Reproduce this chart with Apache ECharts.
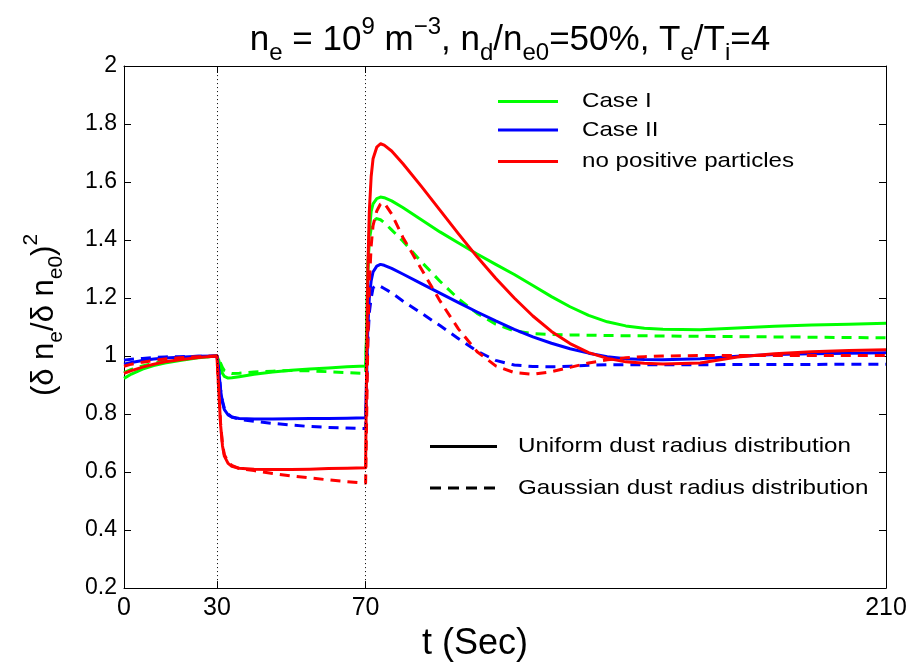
<!DOCTYPE html>
<html>
<head>
<meta charset="utf-8">
<script src="https://cdn.jsdelivr.net/npm/echarts@6/dist/echarts.min.js"></script>
<style>
  html, body { margin: 0; padding: 0; background: #fff; }
  #chart { width: 912px; height: 667px; }
</style>
</head>
<body>
<div id="chart"></div>
<script>
// Sample times (s); the plot starts at t = 5, labelled as the origin of the run
const times = [5, 7, 10, 13, 16, 20, 25, 30,
  30.5, 31, 31.5, 32, 33, 34, 36, 40, 45, 50, 55, 60, 65, 70,
  70.3, 70.6, 71, 71.5, 72, 73, 74, 75,
  77, 80, 85, 90, 95, 100, 105, 110,
  115, 120, 125, 130, 135, 140, 145, 150,
  160, 170, 180, 190, 200, 210];

// (δn_e/δn_e0)^2 for each case, uniform (solid) and Gaussian (dashed) dust radius distributions
const caseIUniform = [0.923, 0.938, 0.955, 0.967, 0.976, 0.985, 0.994, 1.0,
  0.985, 0.96, 0.94, 0.93, 0.924, 0.925, 0.929, 0.937, 0.945, 0.951, 0.955, 0.959, 0.963, 0.966,
  1.1, 1.3, 1.43, 1.5, 1.525, 1.543, 1.548, 1.546,
  1.535, 1.512, 1.47, 1.428, 1.39, 1.352, 1.316, 1.281,
  1.243, 1.205, 1.17, 1.14, 1.118, 1.104, 1.096, 1.092,
  1.091, 1.097, 1.103, 1.107, 1.110, 1.113];
const caseIGaussian = [0.943, 0.954, 0.966, 0.975, 0.982, 0.989, 0.996, 1.0,
  0.99, 0.975, 0.96, 0.95, 0.943, 0.94, 0.941, 0.945, 0.948, 0.95, 0.949, 0.946, 0.943, 0.94,
  1.1, 1.3, 1.4, 1.44, 1.465, 1.474, 1.47, 1.46,
  1.435, 1.397, 1.325, 1.258, 1.197, 1.147, 1.11, 1.087,
  1.077, 1.074, 1.073, 1.072, 1.071, 1.07, 1.07, 1.069,
  1.068, 1.067, 1.066, 1.065, 1.064, 1.063];
const caseIIUniform = [0.972, 0.978, 0.985, 0.99, 0.993, 0.996, 0.999, 1.0,
  0.95, 0.88, 0.84, 0.815, 0.797, 0.79, 0.785, 0.783, 0.783, 0.784, 0.785, 0.785, 0.786, 0.787,
  0.95, 1.1, 1.2, 1.26, 1.29, 1.31, 1.316, 1.313,
  1.302, 1.283, 1.25, 1.217, 1.184, 1.152, 1.121, 1.092,
  1.066, 1.044, 1.025, 1.01, 0.998, 0.991, 0.988, 0.987,
  0.991, 0.999, 1.005, 1.008, 1.01, 1.011];
const caseIIGaussian = [0.986, 0.989, 0.992, 0.995, 0.997, 0.998, 0.999, 1.0,
  0.95, 0.885, 0.845, 0.82, 0.8, 0.79, 0.782, 0.775, 0.768, 0.762, 0.757, 0.754, 0.752, 0.75,
  0.9, 1.05, 1.15, 1.2, 1.235, 1.244, 1.24, 1.233,
  1.218, 1.19, 1.148, 1.105, 1.06, 1.017, 0.985, 0.969,
  0.964, 0.963, 0.965, 0.968, 0.97, 0.97, 0.97, 0.97,
  0.97, 0.971, 0.971, 0.971, 0.972, 0.972];
const noPositiveUniform = [0.94, 0.95, 0.962, 0.972, 0.98, 0.987, 0.995, 1.0,
  0.88, 0.76, 0.69, 0.655, 0.63, 0.62, 0.613, 0.61, 0.609, 0.609, 0.61, 0.612, 0.613, 0.615,
  1.0, 1.3, 1.5, 1.62, 1.68, 1.72, 1.732, 1.727,
  1.707, 1.664, 1.585, 1.503, 1.421, 1.342, 1.268, 1.2,
  1.138, 1.085, 1.043, 1.012, 0.992, 0.98, 0.975, 0.973,
  0.976, 0.997, 1.008, 1.015, 1.019, 1.022];
const noPositiveGaussian = [0.965, 0.972, 0.979, 0.985, 0.99, 0.994, 0.998, 1.0,
  0.88, 0.765, 0.695, 0.66, 0.635, 0.623, 0.612, 0.605, 0.595, 0.587, 0.58, 0.573, 0.567, 0.562,
  0.8, 1.05, 1.25, 1.38, 1.45, 1.5, 1.524, 1.528,
  1.49, 1.41, 1.3, 1.19, 1.093, 1.015, 0.966, 0.943,
  0.937, 0.946, 0.961, 0.976, 0.987, 0.994, 0.998, 1.0,
  1.002, 1.002, 1.002, 1.002, 1.002, 1.002];

// x ticks: positions on the time axis and the text shown under them
const xTickValues = [5, 30, 70, 210];
const xTickLabels = ['0', '30', '70', '210'];
// moments the plasma conditions switch
const switchTimes = [30, 70];

const caseNames = ['Case I', 'Case II', 'no positive particles'];
const caseColors = ['#00ff00', '#0000ff', '#ff0000'];
const styleNames = ['Uniform dust radius distribution', 'Gaussian dust radius distribution'];

const FONT = '"Liberation Sans", Arial, Helvetica, sans-serif';
const DASH = [10, 7];

function pairs(vals) { return times.map((t, i) => [t, vals[i]]); }

function curve(name, vals, color, dashed) {
  return {
    name: name,
    type: 'line',
    data: pairs(vals),
    showSymbol: false,
    symbol: 'none',
    smooth: false,
    lineStyle: { color: color, width: 3, type: dashed ? DASH : 'solid', join: 'round' },
    silent: true,
    z: 3
  };
}

const chart = echarts.init(document.getElementById('chart'), null, { renderer: 'canvas' });

const gridL = 124, gridT = 66, gridR = 26, gridB = 64;

const extras = [];
const legendY = [101.5, 130, 161.5];
caseNames.forEach((n, i) => {
  extras.push({
    type: 'line', shape: { x1: 498, y1: legendY[i], x2: 558, y2: legendY[i] },
    style: { stroke: caseColors[i], lineWidth: 3 }, z: 10
  });
  extras.push({
    type: 'text', x: 582, y: legendY[i], scaleX: 1.15,
    style: { text: n, font: '21px ' + FONT, fill: '#000', textVerticalAlign: 'middle' }, z: 10
  });
});
const styleY = [446.5, 488];
styleNames.forEach((n, i) => {
  extras.push({
    type: 'line', shape: { x1: 430, y1: styleY[i], x2: 497, y2: styleY[i] },
    style: { stroke: '#000', lineWidth: 3, lineDash: i === 1 ? [11, 7] : null }, z: 10
  });
  extras.push({
    type: 'text', x: 518, y: styleY[i], scaleX: 1.15,
    style: { text: n, font: '21px ' + FONT, fill: '#000', textVerticalAlign: 'middle' }, z: 10
  });
});

// y-axis name, drawn rotated
extras.push({
  type: 'text', x: 44, y: 315, rotation: Math.PI / 2,
  style: {
    text: '{m|(δ n}{sb|e}{m|/δ n}{sb|e0}{m|)}{sp|2}',
    align: 'center', verticalAlign: 'middle', fill: '#000',
    rich: {
      m: { fontSize: 31, fontFamily: FONT, lineHeight: 46, fill: '#000' },
      sb: { fontSize: 21, fontFamily: FONT, lineHeight: 16, verticalAlign: 'bottom', fill: '#000' },
      sp: { fontSize: 21, fontFamily: FONT, lineHeight: 20, verticalAlign: 'top', fill: '#000' }
    }
  }
});

const option = {
  backgroundColor: '#ffffff',
  animation: false,
  title: {
    text: '{m|n}{sb|e}{m| = 10}{sp|9}{m| m}{sp|−3}{m|, n}{sb|d}{m|/n}{sb|e0}{m|=50%, T}{sb|e}{m|/T}{sb|i}{m|=4}',
    left: 505,
    textAlign: 'center',
    top: 10,
    textStyle: {
      fontWeight: 'normal',
      rich: {
        m: { fontSize: 35, fontFamily: FONT, fontWeight: 'normal', lineHeight: 50, color: '#000' },
        sb: { fontSize: 24, fontFamily: FONT, fontWeight: 'normal', lineHeight: 18, verticalAlign: 'bottom', color: '#000' },
        sp: { fontSize: 24, fontFamily: FONT, fontWeight: 'normal', lineHeight: 26, verticalAlign: 'top', color: '#000' }
      }
    }
  },
  grid: { left: gridL, top: gridT, right: gridR, bottom: gridB, containLabel: false },
  xAxis: [{
    type: 'value',
    min: 5, max: 210,
    name: 't (Sec)',
    nameLocation: 'middle',
    nameGap: 32,
    nameTextStyle: { fontSize: 36, fontFamily: FONT, color: '#000', padding: [0, 60, 0, 0] },
    axisLine: { show: true, onZero: false, lineStyle: { color: '#000', width: 1 } },
    axisTick: { show: true, inside: true, length: 7, customValues: xTickValues, lineStyle: { color: '#000' } },
    axisLabel: {
      show: true, customValues: xTickValues, margin: 8,
      fontSize: 25, fontFamily: FONT, color: '#000',
      formatter: v => xTickLabels[xTickValues.indexOf(v)]
    },
    splitLine: { show: false }
  }, {
    type: 'value',
    min: 5, max: 210,
    position: 'top',
    axisLine: { show: true, onZero: false, lineStyle: { color: '#000', width: 1 } },
    axisTick: { show: true, inside: true, length: 7, customValues: xTickValues, lineStyle: { color: '#000' } },
    axisLabel: { show: false },
    splitLine: { show: false }
  }],
  yAxis: [{
    type: 'value',
    min: 0.2, max: 2, interval: 0.2,
    axisLine: { show: true, onZero: false, lineStyle: { color: '#000', width: 1 } },
    axisTick: { show: true, inside: true, length: 7, lineStyle: { color: '#000' } },
    axisLabel: {
      margin: 7, fontSize: 23, fontFamily: FONT, color: '#000',
      formatter: v => String(+v.toFixed(1))
    },
    splitLine: { show: false }
  }, {
    type: 'value',
    min: 0.2, max: 2, interval: 0.2,
    position: 'right',
    axisLine: { show: true, onZero: false, lineStyle: { color: '#000', width: 1 } },
    axisTick: { show: true, inside: true, length: 7, lineStyle: { color: '#000' } },
    axisLabel: { show: false },
    splitLine: { show: false }
  }],
  series: [
    {
      name: 'switch',
      type: 'line',
      data: [],
      silent: true,
      markLine: {
        silent: true,
        symbol: ['none', 'none'],
        label: { show: false },
        lineStyle: { color: '#000', width: 1, type: [1, 3] },
        data: switchTimes.map(t => ({ xAxis: t }))
      },
      z: 1
    },
    curve(caseNames[0] + ' uniform', caseIUniform, caseColors[0], false),
    curve(caseNames[0] + ' Gaussian', caseIGaussian, caseColors[0], true),
    curve(caseNames[1] + ' uniform', caseIIUniform, caseColors[1], false),
    curve(caseNames[1] + ' Gaussian', caseIIGaussian, caseColors[1], true),
    curve(caseNames[2] + ' uniform', noPositiveUniform, caseColors[2], false),
    curve(caseNames[2] + ' Gaussian', noPositiveGaussian, caseColors[2], true)
  ],
  graphic: extras
};

chart.setOption(option);
</script>
</body>
</html>
